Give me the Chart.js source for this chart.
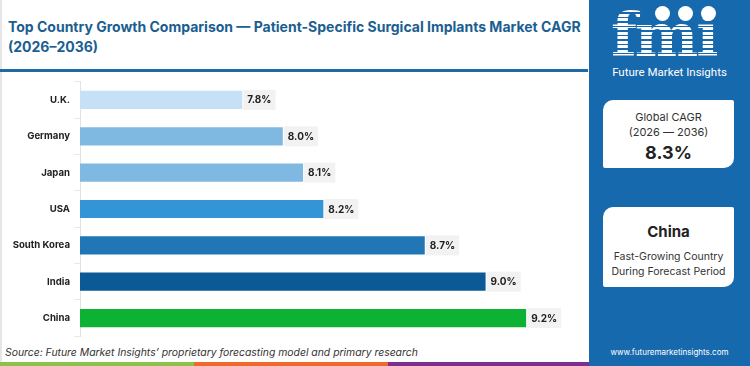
<!DOCTYPE html>
<html>
<head>
<meta charset="utf-8">
<script src="https://cdn.jsdelivr.net/npm/chart.js@4.4.1/dist/chart.umd.min.js"></script>
<style>
  body { margin: 0; width: 750px; height: 366px; overflow: hidden; background: #fff; font-family: Inter, sans-serif; position: relative; }
  #frame { position: absolute; left: 0; top: 0; width: 588px; height: 362px; border-left: 2px solid #e6e6e6; box-sizing: border-box; }
  #title { position: absolute; left: 8px; top: 17px; white-space: nowrap; font-weight: 700; font-size: 14px; line-height: 20px; color: #1b5e91; }
  #rule { position: absolute; left: 0; top: 69px; width: 588px; height: 3px; background: #1d6aa5; }
  #chartBox { position: absolute; left: 0; top: 72px; width: 590px; height: 274px; }
  #source { position: absolute; left: 5px; top: 346px; white-space: nowrap; font-style: italic; font-size: 10.4px; color: #333; }
  .strip { position: absolute; top: 362px; height: 4px; }
  #panel { position: absolute; left: 589px; top: 0; width: 161px; height: 366px; background: #1769ad; color: #fff; }
  #logo { position: absolute; left: 22px; top: 0px; font-family: "DejaVu Serif", serif; font-weight: 700; font-size: 60px; line-height: 70px; letter-spacing: -2px;
          background: repeating-linear-gradient(180deg, #fff 0 3px, #1769ad 3px 4.5px); -webkit-background-clip: text; background-clip: text; color: transparent; }
  .dot { position: absolute; width: 15px; height: 15px; border-radius: 50%; background: #fff; top: 6px; }
  #brand { position: absolute; left: 0; width: 161px; top: 65px; text-align: center; font-family: Roboto, sans-serif; font-size: 11.5px; color: #fff; }
  .card { position: absolute; left: 14px; width: 131px; background: #fff; border-radius: 10px 2px 10px 2px; color: #333; text-align: center; }
  #card1 { top: 100px; height: 68px; }
  #card2 { top: 207px; height: 80px; }
  #url { position: absolute; left: 0; width: 161px; top: 347px; text-align: center; font-size: 8px; color: #fff; }
</style>
</head>
<body>
<div id="frame"></div>
<div id="title">Top Country Growth Comparison — Patient-Specific Surgical Implants Market CAGR<br>(2026–2036)</div>
<div id="rule"></div>
<div id="chartBox"><canvas id="growthChart"></canvas></div>
<div id="source">Source: Future Market Insights’ proprietary forecasting model and primary research</div>
<div class="strip" style="left:0;width:194px;background:#8bc34a"></div>
<div class="strip" style="left:194px;width:194px;background:#ef6a2a"></div>
<div class="strip" style="left:388px;width:201px;background:#7d2f8f"></div>

<div id="panel">
  <div id="logo">fmi</div>
  <div class="dot" style="left:66px"></div>
  <div class="dot" style="left:89px"></div>
  <div class="dot" style="left:112px"></div>
  <div id="brand">Future Market Insights</div>
  <div class="card" id="card1">
    <div style="font-size:11px;margin-top:10px;line-height:15px">Global CAGR</div>
    <div style="font-size:11px;line-height:15px">(2026 — 2036)</div>
    <div style="font-size:18px;font-weight:700;color:#222;line-height:22px;margin-top:2px">8.3%</div>
  </div>
  <div class="card" id="card2">
    <div style="font-size:15px;font-weight:700;color:#222;margin-top:16px;line-height:18px">China</div>
    <div style="font-size:10.5px;margin-top:8px;line-height:15px">Fast-Growing Country</div>
    <div style="font-size:10.5px;line-height:15px">During Forecast Period</div>
  </div>
  <div id="url">www.futuremarketinsights.com</div>
</div>

<script>
const countries = ['U.K.', 'Germany', 'Japan', 'USA', 'South Korea', 'India', 'China'];
const cagr = [7.8, 8.0, 8.1, 8.2, 8.7, 9.0, 9.2];
const barColors = ['#c6e1f5', '#7fb9e2', '#7fb9e2', '#3395d6', '#2177b6', '#0b5a95', '#0db134'];

// draws the "x.x%" label with a light grey box next to each bar
const valueLabels = {
  id: 'valueLabels',
  afterDatasetsDraw(chart) {
    const c = chart.ctx;
    const meta = chart.getDatasetMeta(0);
    c.save();
    c.font = '700 10px Inter, sans-serif';
    c.textBaseline = 'middle';
    meta.data.forEach((bar, i) => {
      const text = cagr[i].toFixed(1) + '%';
      const w = c.measureText(text).width;
      c.fillStyle = '#f2f2f2';
      c.fillRect(bar.x + 1, bar.y - 10, w + 8, 20);
      c.fillStyle = '#222';
      c.fillText(text, bar.x + 5, bar.y + 0.5);
    });
    c.restore();
  }
};

const ctx = document.getElementById('growthChart').getContext('2d');
const growthChart = new Chart(ctx, {
  type: 'bar',
  data: {
    labels: countries,
    datasets: [{
      data: cagr,
      backgroundColor: barColors,
      borderWidth: 0,
      barPercentage: 0.5,
      categoryPercentage: 1
    }]
  },
  options: {
    indexAxis: 'y',
    animation: false,
    responsive: true,
    maintainAspectRatio: false,
    layout: { padding: { top: 3, bottom: 5, right: 3 } },
    plugins: { legend: { display: false }, tooltip: { enabled: false } },
    scales: {
      x: { display: false, min: 7, max: 9.5 },
      y: {
        afterFit(scale) { scale.width = 80; },
        border: { color: '#e2e2e2' },
        grid: { drawOnChartArea: false, tickLength: 6, color: '#e8e8e8' },
        ticks: { padding: 4, color: '#222', font: { family: 'Inter', size: 9.6, weight: '700' } }
      }
    }
  },
  plugins: [valueLabels]
});
</script>
</body>
</html>
